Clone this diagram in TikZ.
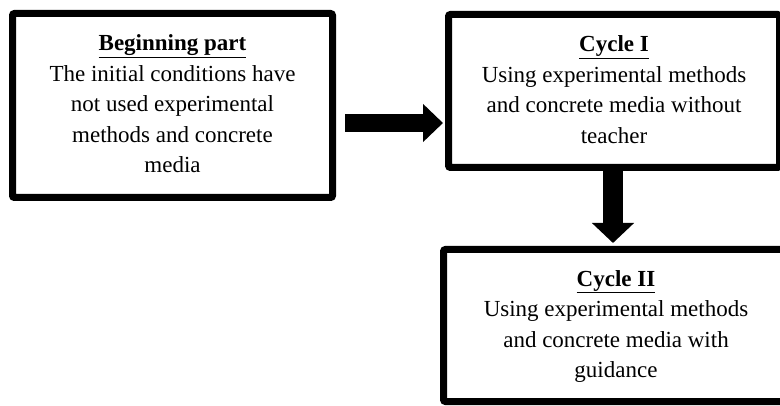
\documentclass[tikz,border=0pt]{standalone}
\usepackage{fontspec}
\setmainfont{Liberation Serif}
\usetikzlibrary{arrows.meta}
\newcommand{\boxstrut}{\rule[-7pt]{0pt}{27pt}}

\begin{document}
\begin{tikzpicture}[x=1pt, y=-1pt,
    stagebox/.style={draw, line width=7pt, rounded corners=2pt, align=center, inner sep=0pt,
        font=\fontsize{23}{30.5}\selectfont},
    bigarrow/.style={line width=#1}]
    \clip (0, 0) rectangle (780, 406);

    \node[stagebox, minimum width=320, minimum height=184] (begin) at (172.5, 105.5)
        {\boxstrut\underline{\textbf{Beginning part}}\\The initial conditions have\\not used experimental\\methods and concrete\\media\boxstrut};
    \node[stagebox, minimum width=331, minimum height=153] (cycleone) at (614, 91)
        {\boxstrut\underline{\textbf{Cycle I}}\\Using experimental methods\\and concrete media without\\teacher\boxstrut};
    \node[stagebox, minimum width=345, minimum height=152] (cycletwo) at (616, 325.5)
        {\boxstrut\underline{\textbf{Cycle II}}\\Using experimental methods\\and concrete media with\\guidance\boxstrut};

    \coordinate (mid) at (0, 123);
    \draw[bigarrow=18pt, -{Triangle[length=20pt, width=37pt]}]
        ([xshift=9pt]begin.east |- mid) -- ([xshift=-2pt]cycleone.west |- mid);
    \draw[bigarrow=20pt, -{Triangle[length=20pt, width=41pt]}]
        ([xshift=-1pt]cycleone.south) -- ([xshift=-1pt, yshift=3pt]cycletwo.north -| cycleone.south);
\end{tikzpicture}
\end{document}
